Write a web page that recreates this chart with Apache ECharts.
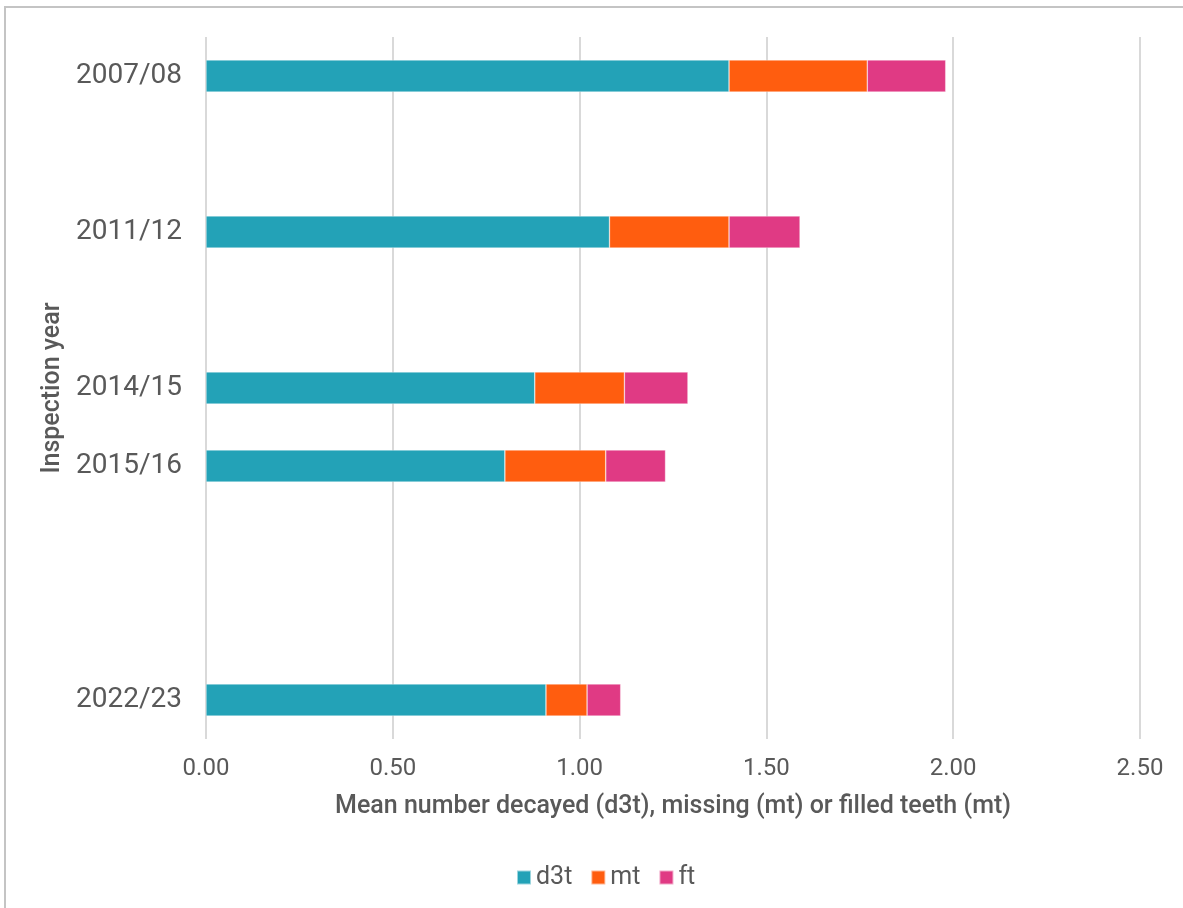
<!DOCTYPE html>
<html>
<head>
<meta charset="utf-8">
<script src="https://cdn.jsdelivr.net/npm/echarts@6/dist/echarts.min.js"></script>
<style>
  html, body { margin: 0; padding: 0; background: #ffffff; }
  #chart { width: 1183px; height: 908px; }
</style>
</head>
<body>
<div id="chart"></div>
<script>
// Inspection years; blank slots keep the spacing between surveys
const categories = ['2007/08', '', '2011/12', '', '2014/15', '2015/16', '', '', '2022/23'];
// Mean number of decayed (d3t), missing (mt) and filled (ft) teeth
const d3t = [1.40, null, 1.08, null, 0.88, 0.80, null, null, 0.91];
const mt  = [0.37, null, 0.32, null, 0.24, 0.27, null, null, 0.11];
const ft  = [0.21, null, 0.19, null, 0.17, 0.16, null, null, 0.09];
const xTicks = { min: 0, max: 2.5, interval: 0.5 };

const FONT = 'Roboto, "Liberation Sans", sans-serif';
const TEXT = '#595959';

const chart = echarts.init(document.getElementById('chart'), null, { renderer: 'canvas' });

function barSeries(name, data, color) {
  return {
    name: name,
    type: 'bar',
    stack: 'teeth',
    data: data,
    barWidth: 32,
    itemStyle: { color: color, borderColor: 'rgba(255,255,255,0.55)', borderWidth: 0.6 },
    emphasis: { disabled: true }
  };
}

chart.setOption({
  animation: false,
  backgroundColor: '#ffffff',
  textStyle: { fontFamily: FONT },
  graphic: [{
    type: 'rect',
    shape: { x: 5, y: 7, width: 1250, height: 950 },
    style: { fill: 'none', stroke: '#c4c4c4', lineWidth: 2 },
    silent: true
  }],
  grid: { left: 206, right: 43, top: 37, bottom: 169, containLabel: false },
  legend: {
    data: ['d3t', 'mt', 'ft'],
    bottom: 13,
    left: 511,
    itemWidth: 14,
    itemHeight: 14,
    itemGap: 18,
    icon: 'rect',
    textStyle: { fontSize: 25, color: TEXT, fontFamily: FONT }
  },
  xAxis: {
    type: 'value',
    min: xTicks.min,
    max: xTicks.max,
    interval: xTicks.interval,
    name: 'Mean number decayed (d3t), missing (mt) or filled teeth (mt)',
    nameLocation: 'middle',
    nameGap: 55,
    nameTextStyle: { fontSize: 25, color: TEXT, fontWeight: 500, fontFamily: FONT },
    axisLine: { show: false },
    axisTick: { show: false },
    axisLabel: {
      fontSize: 24, color: TEXT, margin: 18,
      formatter: v => v.toFixed(2)
    },
    splitLine: { show: true, lineStyle: { color: '#d9d9d9', width: 2 } }
  },
  yAxis: {
    type: 'category',
    inverse: true,
    data: categories,
    name: 'Inspection year',
    nameLocation: 'middle',
    nameGap: 135,
    nameTextStyle: { fontSize: 25, color: TEXT, fontWeight: 500, fontFamily: FONT },
    axisLine: { show: false },
    axisTick: { show: false },
    axisLabel: { fontSize: 28, color: TEXT, margin: 24 },
    splitLine: { show: false }
  },
  series: [
    barSeries('d3t', d3t, '#23A2B7'),
    barSeries('mt', mt, '#FF5D0F'),
    barSeries('ft', ft, '#E03A84')
  ]
});
</script>
</body>
</html>
